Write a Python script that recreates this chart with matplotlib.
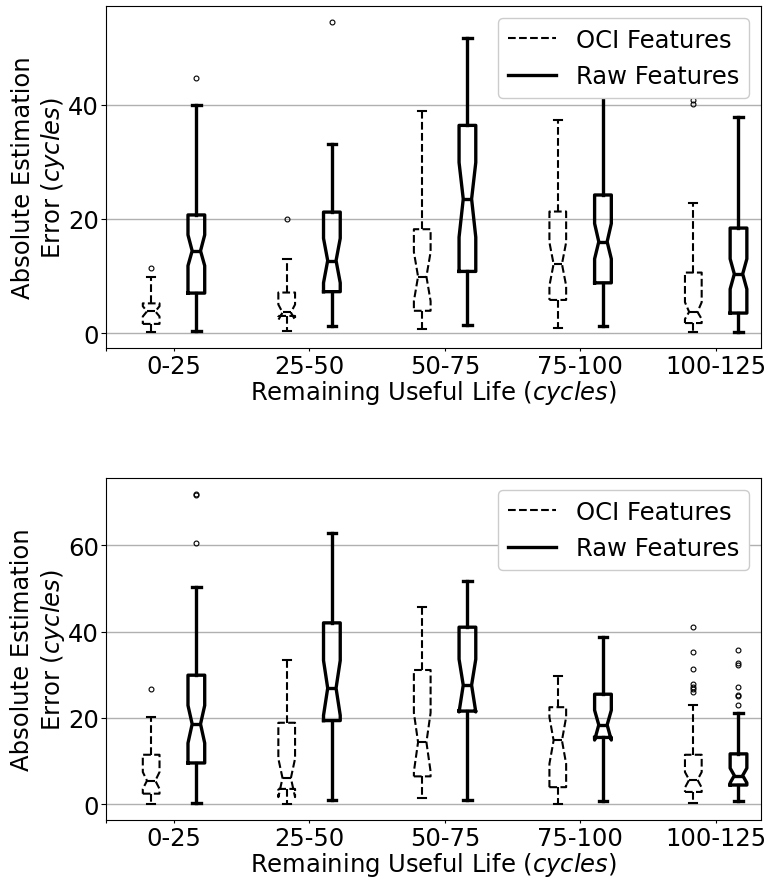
import numpy as np
import matplotlib.pyplot as plt
from matplotlib.lines import Line2D

plt.rcParams['font.size'] = 17.5
plt.rcParams['xtick.major.size'] = 2.5
plt.rcParams['xtick.major.pad'] = 1.5
plt.rcParams['ytick.major.pad'] = 1.5

groups = ["0-25", "25-50", "50-75", "75-100", "100-125"]

# upper plot - OCI features
top_oci_whislo = [0.1, 0.4, 0.7, 0.9, 0.1]
top_oci_q1 = [1.6, 3.0, 3.9, 5.8, 1.75]
top_oci_cilo = [2.9, 2.3, 5.6, 8.3, 2.45]
top_oci_med = [3.8, 3.6, 9.9, 12.1, 3.7]
top_oci_cihi = [4.7, 5.0, 14.2, 15.9, 5.4]
top_oci_q3 = [5.2, 7.1, 18.2, 21.3, 10.6]
top_oci_whishi = [9.8, 13.0, 38.9, 37.4, 22.8]
top_oci_fliers = [[11.35], [20.0], [], [], [40.2, 40.9]]

# upper plot - raw features
top_raw_whislo = [0.4, 1.2, 1.4, 1.3, 0.1]
top_raw_q1 = [7.0, 7.25, 10.8, 8.8, 3.5]
top_raw_cilo = [11.8, 8.8, 16.8, 13.0, 7.7]
top_raw_med = [14.4, 12.7, 23.5, 16.0, 10.35]
top_raw_cihi = [17.2, 16.6, 29.9, 19.2, 13.0]
top_raw_q3 = [20.7, 21.2, 36.4, 24.2, 18.4]
top_raw_whishi = [40.0, 33.1, 51.7, 46.0, 37.8]
top_raw_fliers = [[44.7], [54.6], [], [], []]

# lower plot - OCI features
bot_oci_whislo = [0.0, 0.0, 1.5, 0.2, 0.4]
bot_oci_q1 = [2.5, 3.6, 6.5, 4.0, 2.9]
bot_oci_cilo = [3.6, 1.7, 7.6, 9.4, 3.9]
bot_oci_med = [5.5, 6.1, 14.4, 14.8, 5.7]
bot_oci_cihi = [7.5, 10.6, 21.2, 20.2, 7.5]
bot_oci_q3 = [11.5, 18.9, 31.1, 22.5, 11.5]
bot_oci_whishi = [20.2, 33.3, 45.7, 29.8, 23.1]
bot_oci_fliers = [[26.7], [], [], [], [41.0, 35.2, 31.3, 27.9, 27.1, 26.6, 26.1]]

# lower plot - raw features
bot_raw_whislo = [0.3, 1.1, 1.1, 0.8, 0.8]
bot_raw_q1 = [9.6, 19.4, 21.6, 15.5, 4.5]
bot_raw_cilo = [14.2, 20.6, 21.4, 14.9, 5.0]
bot_raw_med = [18.6, 26.9, 27.6, 18.4, 6.7]
bot_raw_cihi = [22.9, 33.3, 33.6, 21.8, 8.4]
bot_raw_q3 = [29.9, 42.0, 41.0, 25.5, 11.7]
bot_raw_whishi = [50.3, 62.7, 51.7, 38.8, 21.2]
bot_raw_fliers = [[71.5, 71.9, 60.5], [], [], [], [35.8, 32.7, 32.3, 27.1, 25.3, 25.0, 22.9]]


# build the stats dicts that bxp wants
def makeStats(whislo, q1, cilo, med, cihi, q3, whishi, fliers):
    stats = []
    for i in range(len(med)):
        stats.append({"whislo": whislo[i], "q1": q1[i], "cilo": cilo[i],
                      "med": med[i], "cihi": cihi[i], "q3": q3[i],
                      "whishi": whishi[i], "fliers": np.array(fliers[i])})
    return stats


def drawBoxes(ax, stats, positions, lw, ls):
    line = dict(color="black", linewidth=lw, linestyle=ls)
    ax.bxp(stats, positions=positions, widths=0.37, shownotches=True,
           boxprops=line, whiskerprops=line, capprops=dict(line, linestyle="-"),
           medianprops=dict(line, linestyle="-"),
           flierprops=dict(marker="o", markersize=3.5, markerfacecolor="none",
                           markeredgecolor="black", markeredgewidth=0.8),
           manage_ticks=False)


def drawPanel(ax, oci, raw, yticks):
    oci_pos = np.arange(len(groups)) * 3 + 1
    raw_pos = oci_pos + 1
    drawBoxes(ax, oci, oci_pos, 1.5, "--")
    drawBoxes(ax, raw, raw_pos, 2.4, "-")

    ax.yaxis.grid(True, color="#b0b0b0", linewidth=1)
    ax.set_axisbelow(True)
    ax.set_xlim(0, 14.5)
    ax.set_xticks([0] + list(oci_pos + 0.5))
    ax.set_xticklabels([""] + groups)
    ax.set_yticks(yticks)
    ax.set_ylabel("Absolute Estimation\nError ($\\it{cycles}$)", labelpad=1)
    ax.set_xlabel("Remaining Useful Life ($\\it{cycles}$)", labelpad=0.5)

    handles = [Line2D([], [], color="black", linestyle="--", linewidth=1.5),
               Line2D([], [], color="black", linestyle="-", linewidth=2.4)]
    ax.legend(handles, ["OCI Features", "Raw Features"], loc="upper right",
              framealpha=1)


def main():
    fig = plt.figure(figsize=(7.68, 8.78), dpi=100)
    ax_top = fig.add_axes([0.138, 0.6025, 0.853, 0.3895])
    ax_bot = fig.add_axes([0.138, 0.0649, 0.853, 0.3895])

    drawPanel(ax_top,
              makeStats(top_oci_whislo, top_oci_q1, top_oci_cilo, top_oci_med,
                        top_oci_cihi, top_oci_q3, top_oci_whishi, top_oci_fliers),
              makeStats(top_raw_whislo, top_raw_q1, top_raw_cilo, top_raw_med,
                        top_raw_cihi, top_raw_q3, top_raw_whishi, top_raw_fliers),
              [0, 20, 40])
    drawPanel(ax_bot,
              makeStats(bot_oci_whislo, bot_oci_q1, bot_oci_cilo, bot_oci_med,
                        bot_oci_cihi, bot_oci_q3, bot_oci_whishi, bot_oci_fliers),
              makeStats(bot_raw_whislo, bot_raw_q1, bot_raw_cilo, bot_raw_med,
                        bot_raw_cihi, bot_raw_q3, bot_raw_whishi, bot_raw_fliers),
              [0, 20, 40, 60])

    fig.savefig("out.png", dpi=100)


main()
